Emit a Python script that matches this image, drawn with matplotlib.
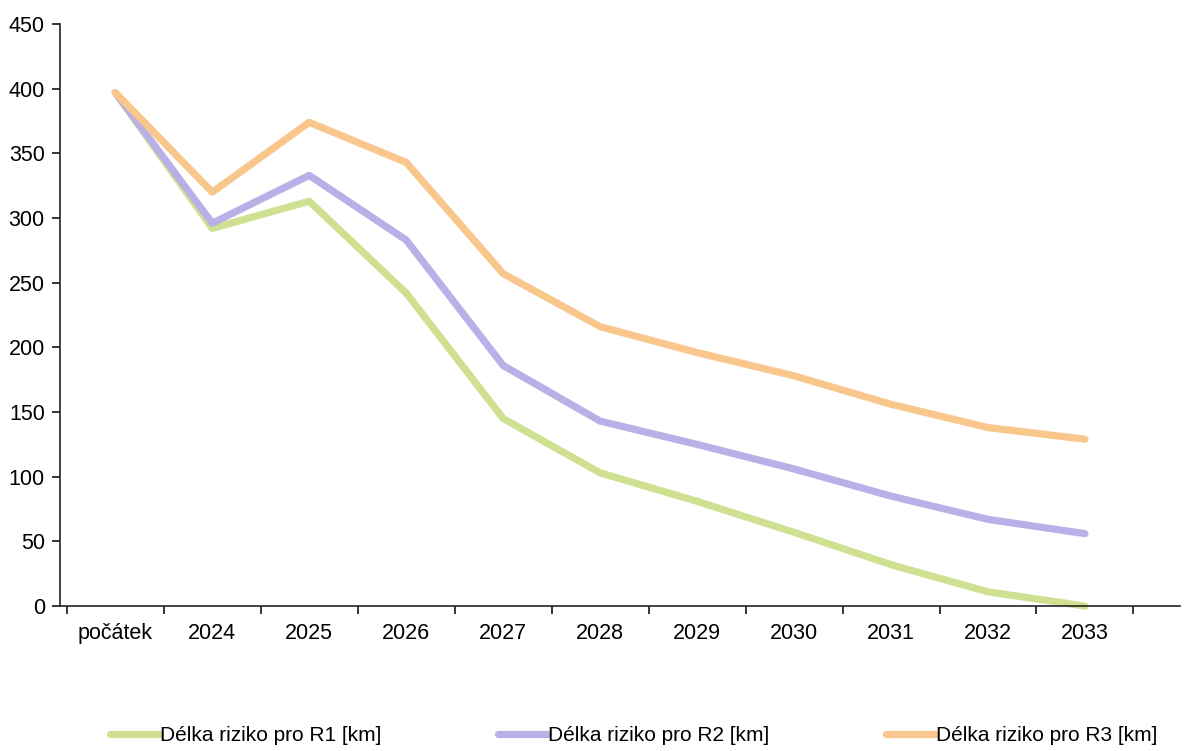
import matplotlib.pyplot as plt
from matplotlib import font_manager

# -------------------------------
# data
# -------------------------------
categories = ["počátek", "2024", "2025", "2026", "2027", "2028",
              "2029", "2030", "2031", "2032", "2033"]
r1_values = [397, 292, 313, 242, 145, 103, 81, 57, 32, 11, 0]
r2_values = [397, 296, 333, 283, 186, 143, 125, 106, 85, 67, 56]
r3_values = [397, 320, 374, 343, 257, 216, 196, 178, 156, 138, 129]
labels = ["Délka riziko pro R1 [km]", "Délka riziko pro R2 [km]",
          "Délka riziko pro R3 [km]"]
colors = ["#cfe090", "#b8b0e6", "#f9c68c"]

plt.rcParams["font.family"] = ["Liberation Sans", "DejaVu Sans"]

fig = plt.figure(figsize=(11.84, 7.51), dpi=100)
ax = fig.add_axes([0.0507, 0.193, 0.9459, 0.775])

x = list(range(len(categories)))
for vals, col, lab in zip([r1_values, r2_values, r3_values], colors, labels):
    ax.plot(x, vals, color=col, lw=5.2, label=lab, solid_capstyle="round",
            solid_joinstyle="round", clip_on=False)

ax.set_ylim(0, 450)
ax.set_yticks(range(0, 451, 50))
ax.set_xlim(-0.57, 10.98)
# category ticks sit between the categories
ax.set_xticks([i - 0.5 for i in range(len(categories))] + [10.5])
ax.set_xticklabels([])
ax.set_xticks(x, minor=True)
ax.set_xticklabels(categories, minor=True)
ax.tick_params(axis="x", which="minor", length=0, pad=12, labelsize=15.5)
ax.tick_params(axis="x", which="major", length=6, width=1.1, direction="out")
ax.tick_params(axis="y", length=6, width=1.1, labelsize=15.5, pad=5)

for s in ["top", "right"]:
    ax.spines[s].set_visible(False)
for s in ["left", "bottom"]:
    ax.spines[s].set_linewidth(1.2)
    ax.spines[s].set_color("#222222")

leg = fig.legend(loc="center", bbox_to_anchor=(0.535, 0.02), ncol=3,
                 frameon=False, handlelength=2.4, handletextpad=0.0,
                 columnspacing=5.6, prop={"size": 15})

fig.savefig("out.png", dpi=100, facecolor="white")
